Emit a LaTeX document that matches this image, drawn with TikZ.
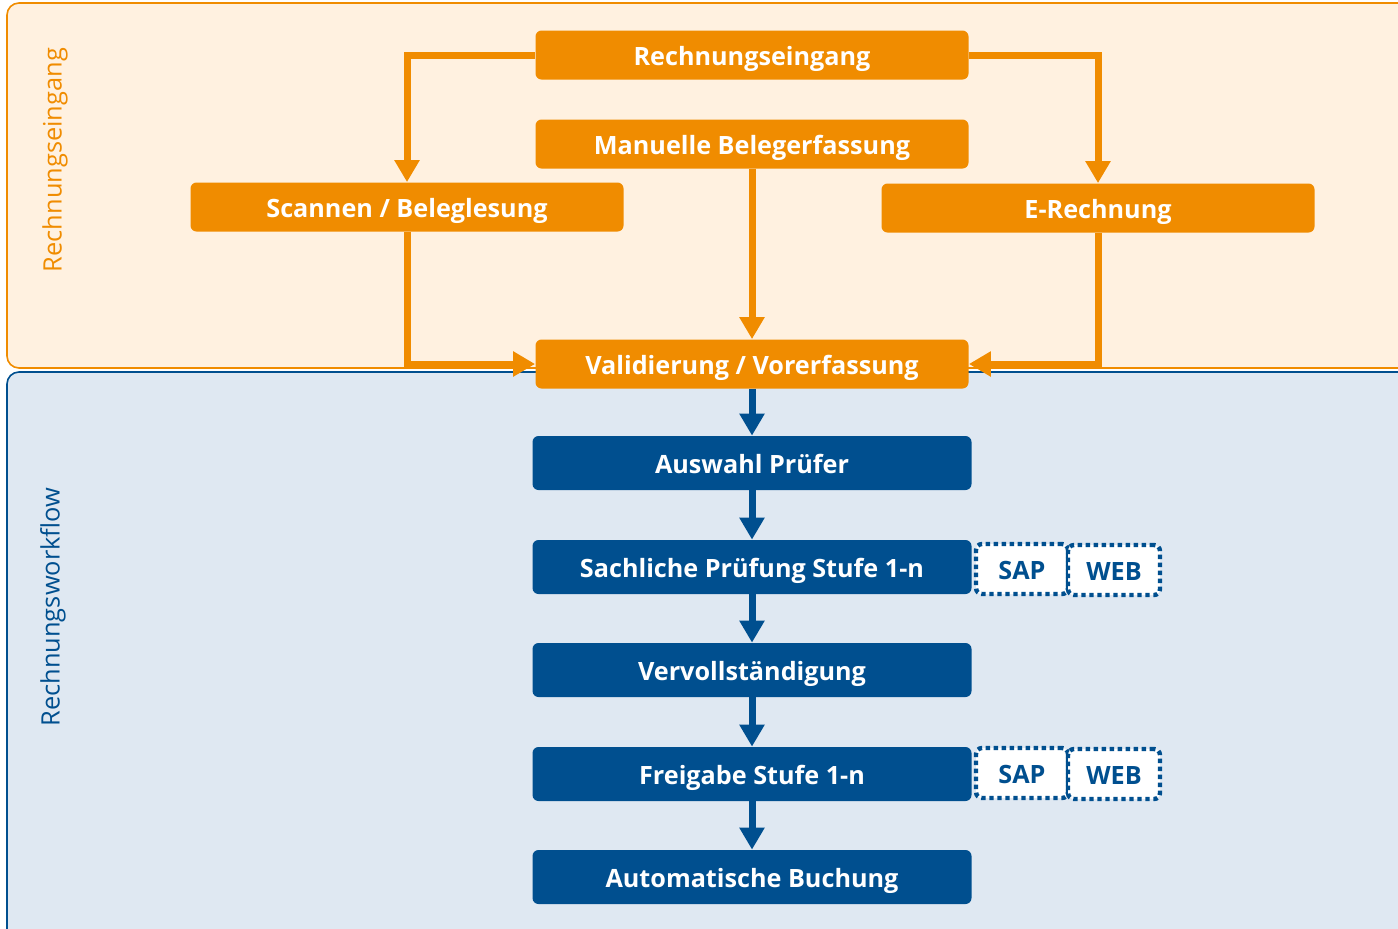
\documentclass[tikz,border=0pt]{standalone}
\usepackage{fontspec}
\setmainfont{Open Sans}
\usetikzlibrary{positioning,arrows.meta}
\definecolor{ibOrange}{HTML}{F08C00}
\definecolor{ibBlue}{HTML}{004F8F}
\definecolor{ibCream}{HTML}{FFF1E0}
\definecolor{ibSky}{HTML}{DFE8F2}
\tikzset{>={Triangle[width=12pt,length=11pt]}}
\tikzset{
  boxtext/.style={text=white,font=\bfseries\fontsize{12.6}{15}\selectfont,inner sep=0pt,
    text height=10.5pt,text depth=0pt},
  obox/.style={boxtext,fill=ibOrange,rounded corners=3pt,minimum width=216.5pt,minimum height=24.5pt},
  bbox/.style={boxtext,fill=ibBlue,rounded corners=3pt,minimum width=219.5pt,minimum height=27pt},
  tagbox/.style={boxtext,text=ibBlue,fill=white,draw=ibBlue,line width=2.2pt,
    dash pattern=on 2.2pt off 1.8pt,rounded corners=3pt,minimum width=46pt,minimum height=25pt},
  oline/.style={draw=ibOrange,line width=3.5pt,->},
  bline/.style={draw=ibBlue,line width=3.5pt,->},
  lane/.style={rotate=90,font=\fontsize{12.7}{15}\selectfont}
}

\begin{document}
\begin{tikzpicture}[x=0.5pt,y=-0.5pt]
\useasboundingbox (0,0) rectangle (1398,928);
\clip (0,0) rectangle (1398,928);

% Lanes
\draw[draw=ibOrange,fill=ibCream,line width=0.8pt,rounded corners=6pt] (7,3) rectangle (1420,368);
\draw[draw=ibBlue,fill=ibSky,line width=0.8pt,rounded corners=6pt] (7,372) rectangle (1420,950);
\node[lane,text=ibOrange] (laneIn) at (55,160) {Rechnungseingang};
\node[lane,text=ibBlue] (laneWf) at (53,607) {Rechnungsworkflow};

% Invoice input
\node[obox] (eing) at (752,55) {Rechnungseingang};
\node[obox] (manu) at (752,144) {Manuelle Belegerfassung};
\node[obox] (scan) at (407,207) {Scannen / Beleglesung};
\node[obox] (erech) at (1098,208) {E-Rechnung};
\node[obox] (valid) at (752,364) {Validierung / Vorerfassung};

\draw[oline] (eing.west) -| (scan.north);
\draw[oline] (eing.east) -| (erech.north);
\draw[oline] (manu.south) -- (valid.north);
\draw[oline] (scan.south) |- (valid.west);
\draw[oline] (erech.south) |- (valid.east);

% Workflow
\node[bbox] (ausw) at (752,463) {Auswahl Prüfer};
\node[bbox] (sachl) at (752,567) {Sachliche Prüfung Stufe 1-n};
\node[bbox] (vervo) at (752,670) {Vervollständigung};
\node[bbox] (freig) at (752,774) {Freigabe Stufe 1-n};
\node[bbox] (buchg) at (752,877) {Automatische Buchung};

\draw[bline] (valid.south) -- (ausw.north);
\draw[bline] (ausw.south) -- (sachl.north);
\draw[bline] (sachl.south) -- (vervo.north);
\draw[bline] (vervo.south) -- (freig.north);
\draw[bline] (freig.south) -- (buchg.north);

% SAP / WEB tags
\node[tagbox] (sapA) at (1022,569) {SAP};
\node[tagbox] (webA) at (1114,570) {WEB};
\node[tagbox] (sapB) at (1022,773) {SAP};
\node[tagbox] (webB) at (1114,774) {WEB};
\end{tikzpicture}
\end{document}
